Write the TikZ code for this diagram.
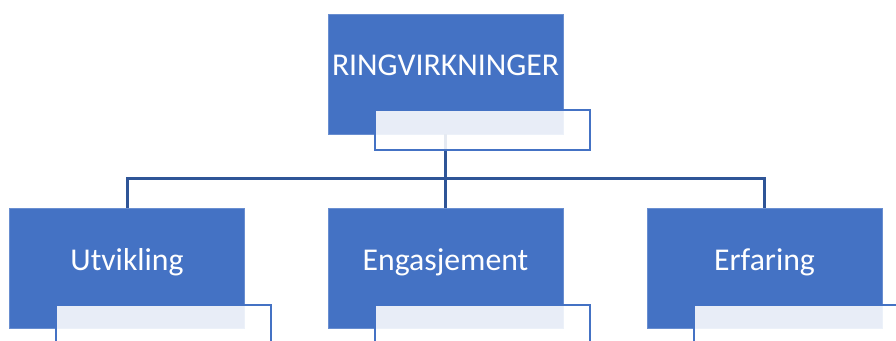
\documentclass[tikz,border=0pt]{standalone}
\usepackage{fontspec}
\setmainfont{Carlito}
\usepackage{tikz}
\usetikzlibrary{calc}
\usetikzlibrary{positioning}
\definecolor{officeblue}{RGB}{68, 114, 196}
\definecolor{darkblue}{RGB}{47, 85, 151}
\tikzset{
    bluebox/.style={fill=officeblue, draw=officeblue!80!white, line width=0.6pt,
                    minimum width=176.25pt, minimum height=90pt, inner sep=0pt},
    subbox/.style={fill=white, fill opacity=0.88, draw=officeblue, draw opacity=1, line width=1.5pt,
                   minimum width=161.25pt, minimum height=30pt, inner sep=0pt, anchor=north west},
    boxtext/.style={text=white, font=\fontsize{23.8}{28}\selectfont, anchor=base, inner sep=0pt},
    conn/.style={draw=darkblue, line width=2.25pt}
}

\begin{document}
\begin{tikzpicture}[x=0.75pt, y=-0.75pt]
    \useasboundingbox (0,0) rectangle (896,340);
    \clip (0,0) rectangle (896,340);

    % main boxes
    \node[bluebox] (ringv) at (445.5, 74) {};
    \node[bluebox] (utv)   at (127, 268.5) {};
    \node[bluebox] (eng)   at (445.5, 268.5) {};
    \node[bluebox] (erf)   at (764.5, 268.5) {};

    % connectors (behind the text boxes)
    \coordinate (bus) at (445.5, 178.5);
    \draw[conn] (ringv.south) -- (bus);
    \draw[conn] (bus) -| (utv.north);
    \draw[conn] (bus) -- (eng.north);
    \draw[conn] (bus) -| (erf.north);

    % text boxes
    \node[subbox] (ringvsub) at ($(ringv.south west)+(46,-25)$) {};
    \node[subbox] (utvsub)   at ($(utv.south west)+(46,-25)$) {};
    \node[subbox] (engsub)   at ($(eng.south west)+(46,-25)$) {};
    \node[subbox] (erfsub)   at ($(erf.south west)+(46,-25)$) {};

    % labels
    \node[boxtext] (ringvlbl) at ($(ringv.north)+(0,62)$) {RINGVIRKNINGER};
    \node[boxtext] (utvlbl)   at ($(utv.north)+(0,62)$)   {Utvikling};
    \node[boxtext] (englbl)   at ($(eng.north)+(0,62)$)   {Engasjement};
    \node[boxtext] (erflbl)   at ($(erf.north)+(0,62)$)   {Erfaring};
\end{tikzpicture}
\end{document}
